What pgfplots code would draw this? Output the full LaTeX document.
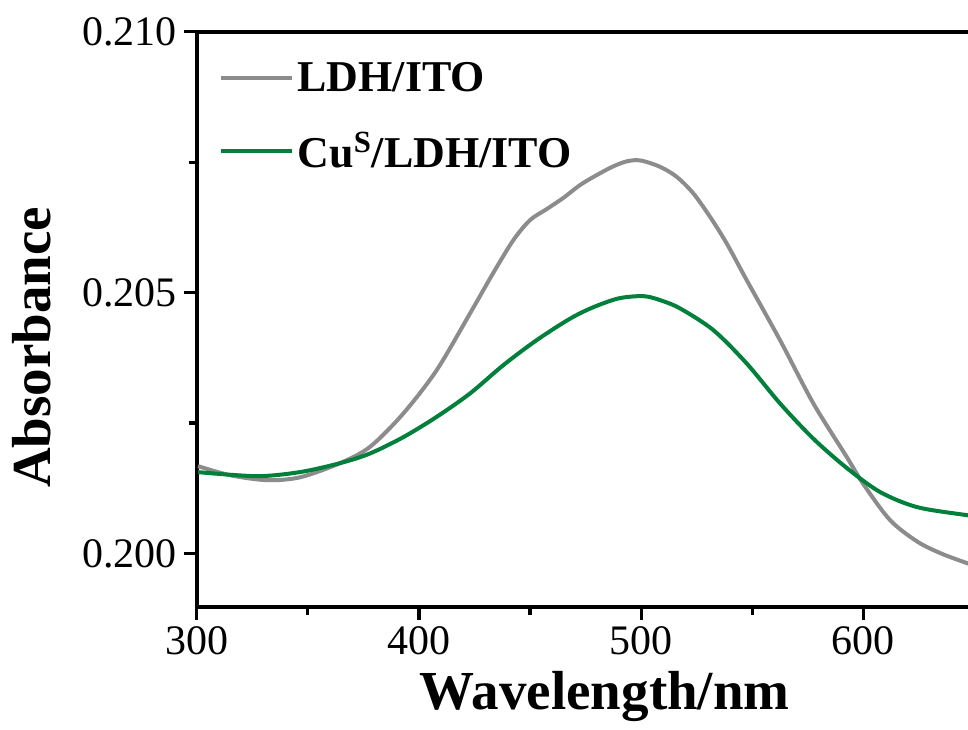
\documentclass[border=0pt]{standalone}
\usepackage{pgfplots}
\pgfplotsset{compat=1.18}
\usepackage{fontspec}
\setmainfont{Liberation Serif}

\definecolor{ldhgray}{RGB}{140,140,140}
\definecolor{cugreen}{RGB}{0,128,58}

\begin{document}
\begin{tikzpicture}
\begin{axis}[
    scale only axis,
    width=385.65pt, height=287.5pt,
    xmin=300, xmax=647.1,
    ymin=0.19898, ymax=0.210,
    axis x line*=box,
    axis y line*=left,
    axis line style={line width=2pt},
    xtick={300,400,500,600},
    ytick={0.200,0.205,0.210},
    minor x tick num=1,
    minor y tick num=1,
    xtick pos=bottom, ytick pos=left,
    tick align=outside,
    major tick length=6.5pt,
    minor tick length=4pt,
    every tick/.style={black, line width=1.6pt},
    scaled y ticks=false,
    /pgf/number format/assume math mode=true,
    tick label style={font=\fontsize{21}{21}\selectfont},
    yticklabel style={/pgf/number format/fixed,
        /pgf/number format/precision=3,
        /pgf/number format/fixed zerofill},
    xlabel={\bfseries Wavelength/nm},
    ylabel={\bfseries Absorbance},
    label style={font=\fontsize{27.5}{27.5}\selectfont},
    xlabel style={at={(axis description cs:0.529,-0.179)}, anchor=base},
    ylabel style={at={(axis description cs:-0.214,0.451)}, anchor=center, rotate=0},
    legend style={draw=none, fill=none,
        at={(axis description cs:0.02,0.962)}, anchor=north west,
        font=\fontsize{22}{22}\selectfont\bfseries,
        row sep=15pt,
        nodes={inner sep=2pt}},
    legend cell align=left,
    legend image code/.code={\draw[#1] (0pt,0pt) -- (35.5pt,0pt);},
]
\coordinate (sw) at (rel axis cs:0,0);
\coordinate (ne) at (rel axis cs:1,1);

\addplot[ldhgray, line width=2pt, smooth] coordinates {
    (300.6,0.201674) (315,0.201500) (331.6,0.201405) (346.5,0.201460)
    (364.5,0.201731) (378.0,0.202044) (393.0,0.202684) (408.0,0.203514)
    (423.0,0.204601) (433.5,0.205380) (442.5,0.206006) (450.0,0.206389)
    (457.5,0.206600) (465.0,0.206815) (472.5,0.207061) (480.0,0.207252)
    (487.5,0.207420) (494.0,0.207520) (500.0,0.207530) (508.5,0.207411)
    (516.0,0.207219) (523.5,0.206901) (531.0,0.206453) (538.5,0.205943)
    (547.5,0.205239) (562.5,0.204089) (577.5,0.202876) (592.5,0.201852)
    (600.0,0.201330) (612.0,0.200640) (624.2,0.200230) (635.0,0.200000)
    (646.7,0.199814) (648,0.199795)
};
\addlegendentry{LDH/ITO}

\addplot[cugreen, line width=2pt, smooth] coordinates {
    (300.6,0.201559) (327.1,0.201482) (346.5,0.201560) (364.5,0.201731)
    (378.0,0.201917) (393.0,0.202230) (408.0,0.202619) (423.0,0.203067)
    (438.0,0.203610) (453.0,0.204089) (468.0,0.204500) (478.5,0.204720)
    (490.0,0.204890) (501.0,0.204932) (508.5,0.204856) (517.5,0.204697)
    (532.5,0.204281) (547.5,0.203642) (562.5,0.202876) (577.5,0.202200)
    (592.5,0.201640) (607.4,0.201181) (624.2,0.200888) (646.7,0.200734)
    (648,0.200730)
};
\addlegendentry{Cu\textsuperscript{S}/LDH/ITO}
\end{axis}
\pgfresetboundingbox
\path ([xshift=-98.35pt,yshift=-61.15pt]sw) rectangle ([yshift=15.85pt]ne);
\end{tikzpicture}
\end{document}
